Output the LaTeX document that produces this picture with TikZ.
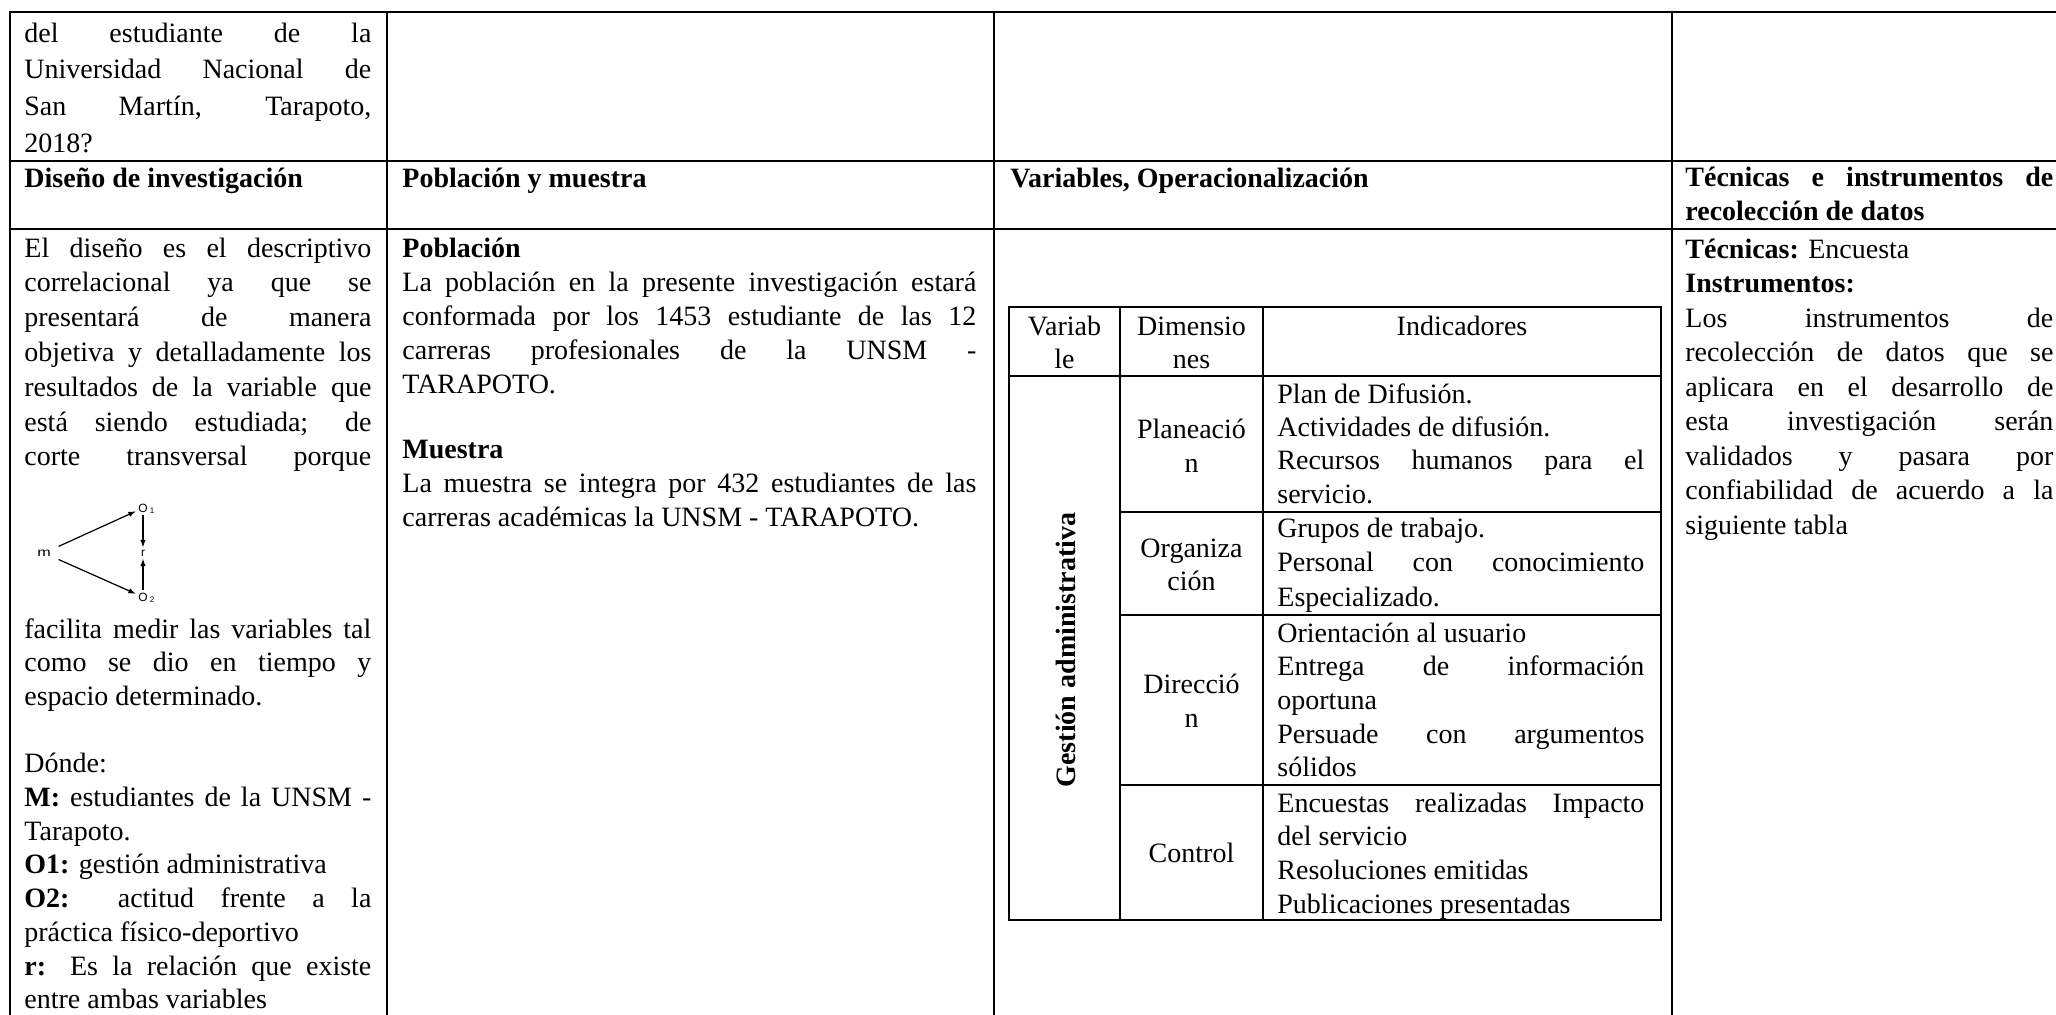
\documentclass[tikz,border=0pt]{standalone}
\usepackage{fontspec}
\setmainfont{Liberation Serif}
\setsansfont{Liberation Sans}
\usetikzlibrary{arrows.meta}
\newcommand\justline[1]{\makebox[\linewidth][s]{#1}}
\newcommand\celltext[3]{\parbox[t]{#1}{\fontsize{14pt}{#2}\selectfont #3}}
\newcommand\centtext[3]{\parbox[t]{#1}{\centering\fontsize{14pt}{#2}\selectfont #3}}
\tikzset{
  grid/.style={line width=1pt, line cap=rect},
  ingrid/.style={line width=1pt},
  cell/.style={inner sep=0pt, anchor=base west, font=\fontsize{14pt}{17pt}\selectfont},
  ccell/.style={inner sep=0pt, anchor=base, font=\fontsize{14pt}{17pt}\selectfont},
  dg/.style={inner sep=1pt, font=\sffamily\fontsize{6pt}{6pt}\selectfont},
  dgm/.style={inner sep=1pt, font=\sffamily\fontsize{6pt}{6pt}\selectfont, xscale=1.35, transform shape},
  dgs/.style={inner sep=0pt, font=\sffamily\fontsize{4pt}{4pt}\selectfont},
  arr/.style={line width=0.6pt, -{Latex[length=3.8pt,width=2.8pt]}}
}
\begin{document}
\begin{tikzpicture}[x=0.5pt,y=-0.5pt]
\useasboundingbox (0,0) rectangle (2056,1014);
\fill[white] (0,0) rectangle (2056,1014);
% outer grid
\draw[grid] (10,12) -- (2056,12);
\draw[grid] (10,161) -- (2056,161);
\draw[grid] (10,229) -- (2056,229);
\draw[grid] (10,12) -- (10,1014);
\draw[grid] (387,12) -- (387,1014);
\draw[grid] (994,12) -- (994,1014);
\draw[grid] (1672,12) -- (1672,1014);
% top row
\node[cell] (a1) at (24,42) {\celltext{173.5pt}{18.35pt}{\justline{del estudiante de la}\\\justline{Universidad Nacional de}\\\justline{San Martín, Tarapoto,}\\2018?}};
% header row
\node[cell] (h1) at (24,187) {\bfseries Diseño de investigación};
\node[cell] (h2) at (402,187) {\bfseries Población y muestra};
\node[cell] (h3) at (1010,187) {\bfseries Variables, Operacionalización};
\node[cell] (h4) at (1685,186) {\celltext{184pt}{17pt}{\bfseries\justline{Técnicas e instrumentos de}\\recolección de datos}};
% column 1 body
\node[cell] (d1) at (24,257) {\celltext{173.5pt}{17.4pt}{\justline{El diseño es el descriptivo}\\\justline{correlacional ya que se}\\\justline{presentará de manera}\\\justline{objetiva y detalladamente los}\\\justline{resultados de la variable que}\\\justline{está siendo estudiada; de}\\\justline{corte transversal porque}}};
\node[cell] (d2) at (24,638) {\celltext{173.5pt}{16.85pt}{\justline{facilita medir las variables tal}\\\justline{como se dio en tiempo y}\\espacio determinado.\\\mbox{}\\Dónde:\\\justline{\textbf{M:} estudiantes de la UNSM -}\\Tarapoto.\\\textbf{O1:} gestión administrativa\\\justline{\textbf{O2:} actitud frente a la}\\práctica físico-deportivo\\\justline{\textbf{r:} Es la relación que existe}\\entre ambas variables}};
% design diagram
\node[dgm] (m) at (44,553) {m};
\node[dg] (o1) at (143,508) {O};
\node[dgs] (o1s) at (152,511) {1};
\node[dg] (r) at (143,553) {r};
\node[dg] (o2) at (143,597) {O};
\node[dgs] (o2s) at (152,600) {2};
\draw[arr, shorten <=2.5pt] (m) -- (o1);
\draw[arr, shorten <=2.5pt] (m) -- (o2);
\draw[arr] (o1) -- (r);
\draw[arr] (o2) -- (r);
% column 2 body
\node[cell] (p1) at (402,257) {\celltext{287pt}{17pt}{\textbf{Población}\\\justline{La población en la presente investigación estará}\\\justline{conformada por los 1453 estudiante de las 12}\\\justline{carreras profesionales de la UNSM -}\\TARAPOTO.\\[15.5pt]\textbf{Muestra}\\\justline{La muestra se integra por 432 estudiantes de las}\\carreras académicas la UNSM - TARAPOTO.}};
% column 4 body
\node[cell] (t1) at (1685,258) {\celltext{184pt}{17.25pt}{\textbf{Técnicas:} Encuesta\\\textbf{Instrumentos:}\\\justline{Los instrumentos de}\\\justline{recolección de datos que se}\\\justline{aplicara en el desarrollo de}\\\justline{esta investigación serán}\\\justline{validados y pasara por}\\\justline{confiabilidad de acuerdo a la}\\siguiente tabla}};
% inner table
\draw[ingrid] (1009,307) rectangle (1661,920);
\draw[ingrid] (1009,376) -- (1661,376);
\draw[ingrid] (1120,512) -- (1661,512);
\draw[ingrid] (1120,615) -- (1661,615);
\draw[ingrid] (1120,785) -- (1661,785);
\draw[ingrid] (1120,307) -- (1120,920);
\draw[ingrid] (1263,307) -- (1263,920);
\node[ccell] (iv) at (1064.5,335) {\centtext{50pt}{16.5pt}{Variab\\le}};
\node[ccell] (id) at (1191.5,335) {\centtext{68pt}{16.5pt}{Dimensio\\nes}};
\node[ccell] (ii) at (1462,335) {Indicadores};
\node[rotate=90, inner sep=0pt, font=\fontsize{14pt}{17pt}\selectfont\bfseries] (gest) at (1066,650) {Gestión administrativa};
\node[ccell] (dim1) at (1191.5,438) {\centtext{68pt}{17pt}{Planeació\\n}};
\node[ccell] (dim2) at (1191.5,557) {\centtext{68pt}{16.5pt}{Organiza\\ción}};
\node[ccell] (dim3) at (1191.5,693) {\centtext{68pt}{17pt}{Direcció\\n}};
\node[ccell] (dim4) at (1191.5,862) {Control};
\node[cell] (ind1) at (1277,403) {\celltext{183.5pt}{16.67pt}{Plan de Difusión.\\Actividades de difusión.\\\justline{Recursos humanos para el}\\servicio.}};
\node[cell] (ind2) at (1277,537) {\celltext{183.5pt}{17.25pt}{Grupos de trabajo.\\\justline{Personal con conocimiento}\\Especializado.}};
\node[cell] (ind3) at (1277,642) {\celltext{183.5pt}{16.85pt}{Orientación al usuario\\\justline{Entrega de información}\\oportuna\\\justline{Persuade con argumentos}\\sólidos}};
\node[cell] (ind4) at (1277,812) {\celltext{183.5pt}{16.85pt}{\justline{Encuestas realizadas Impacto}\\del servicio\\Resoluciones emitidas\\Publicaciones presentadas}};
\end{tikzpicture}
\end{document}
